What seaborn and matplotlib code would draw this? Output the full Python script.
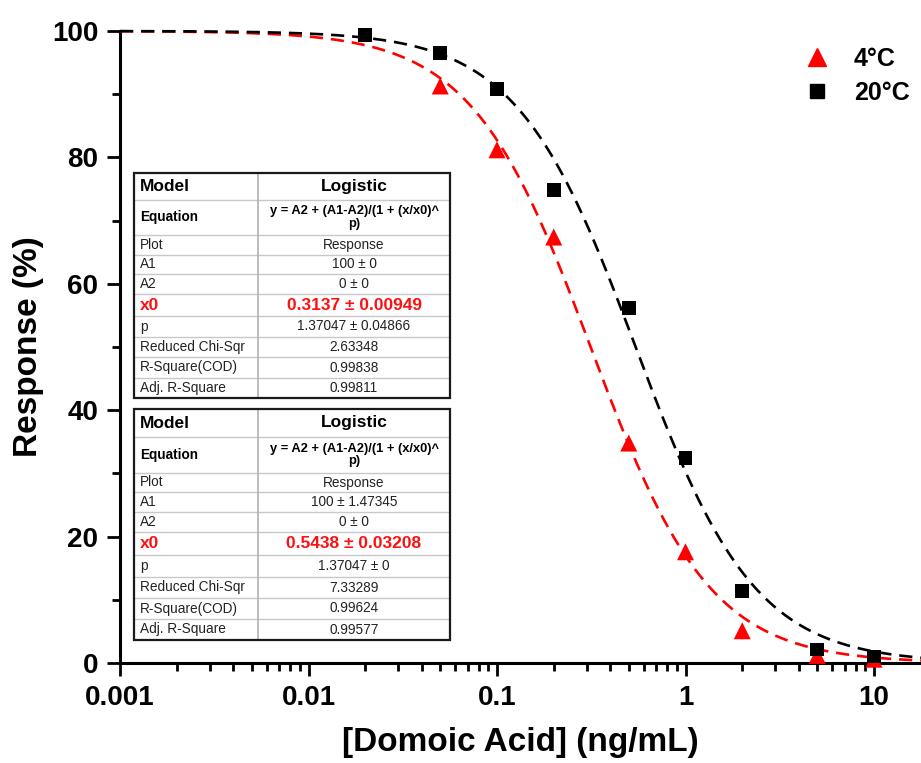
import numpy as np
import pandas as pd
import matplotlib
matplotlib.use("Agg")
import matplotlib.pyplot as plt
import seaborn as sns
from matplotlib.lines import Line2D
from matplotlib.patches import Rectangle
from matplotlib.ticker import LogLocator, FixedLocator, FixedFormatter, MultipleLocator, NullFormatter

# ---------------- data ----------------
conc_4C = [0.05, 0.1, 0.2, 0.5, 1, 2, 5, 10]
resp_4C = [91.3, 81.2, 67.4, 34.8, 17.6, 5.1, 1.2, 0.6]
conc_20C = [0.02, 0.05, 0.1, 0.2, 0.5, 1, 2, 5, 10]
resp_20C = [99.4, 96.5, 90.8, 74.8, 56.2, 32.4, 11.4, 2.1, 1.0]

# logistic fit parameters (from the tables)
A1_4C, A2_4C, x0_4C, p_4C = 100.0, 0.0, 0.3137, 1.37047
A1_20C, A2_20C, x0_20C, p_20C = 100.0, 0.0, 0.5438, 1.37047

x_ticks = [0.001, 0.01, 0.1, 1, 10]
x_tick_labels = ["0.001", "0.01", "0.1", "1", "10"]
y_ticks = [0, 20, 40, 60, 80, 100]

series_names = ["4°C", "20°C"]
colors = {"4°C": "#ff0000", "20°C": "#000000"}

table_rows = ["Model", "Equation", "Plot", "A1", "A2", "x0", "p",
              "Reduced Chi-Sqr", "R-Square(COD)", "Adj. R-Square"]
table1_vals = ["Logistic", "y = A2 + (A1-A2)/(1 + (x/x0)^\np)", "Response",
               "100 ± 0", "0 ± 0", "0.3137 ± 0.00949", "1.37047 ± 0.04866",
               "2.63348", "0.99838", "0.99811"]
table2_vals = ["Logistic", "y = A2 + (A1-A2)/(1 + (x/x0)^\np)", "Response",
               "100 ± 1.47345", "0 ± 0", "0.5438 ± 0.03208", "1.37047 ± 0",
               "7.33289", "0.99624", "0.99577"]

# ---------------- setup ----------------
sns.set_theme(style="white")
plt.rcParams["font.family"] = ["Liberation Sans", "DejaVu Sans"]
plt.rcParams["text.color"] = "black"
plt.rcParams["axes.labelcolor"] = "black"
plt.rcParams["xtick.color"] = "black"
plt.rcParams["ytick.color"] = "black"

W, H = 921, 763
fig = plt.figure(figsize=(W / 100, H / 100), dpi=100)
ax = fig.add_axes([120 / W, 100 / H, (W - 120) / W, 632 / H])
ax.set_xscale("log")
x_max = 10 ** (1 + (W - 874) / 188.5)
ax.set_xlim(0.001, x_max)
ax.set_ylim(0, 100)

pts = pd.DataFrame({
    "conc": conc_4C + conc_20C,
    "resp": resp_4C + resp_20C,
    "series": ["4°C"] * len(conc_4C) + ["20°C"] * len(conc_20C),
})

xs = np.logspace(-3, np.log10(x_max), 300)
def logistic(x, A1, A2, x0, p):
    return A2 + (A1 - A2) / (1 + (x / x0) ** p)
fit = pd.DataFrame({
    "conc": np.concatenate([xs, xs]),
    "resp": np.concatenate([logistic(xs, A1_4C, A2_4C, x0_4C, p_4C),
                            logistic(xs, A1_20C, A2_20C, x0_20C, p_20C)]),
    "series": ["4°C"] * len(xs) + ["20°C"] * len(xs),
})

sns.lineplot(data=fit, x="conc", y="resp", hue="series", style="series",
             hue_order=["4°C", "20°C"], style_order=["4°C", "20°C"], palette=colors,
             dashes={"4°C": (5, 3), "20°C": (5, 3)}, linewidth=1.9,
             estimator=None, sort=True, legend=False, ax=ax, clip_on=False, zorder=3)

sns.scatterplot(data=pts[pts.series == "4°C"], x="conc", y="resp", color=colors["4°C"],
                marker="^", s=150, edgecolor="none", legend=False, ax=ax,
                clip_on=False, zorder=4)
sns.scatterplot(data=pts[pts.series == "20°C"], x="conc", y="resp", color=colors["20°C"],
                marker="s", s=95, edgecolor="none", legend=False, ax=ax,
                clip_on=False, zorder=5)

# axes styling
for side in ["top", "right"]:
    ax.spines[side].set_visible(False)
for side in ["left", "bottom"]:
    ax.spines[side].set_color("black")
    ax.spines[side].set_linewidth(2.2)

ax.xaxis.set_major_locator(FixedLocator(x_ticks))
ax.xaxis.set_major_formatter(FixedFormatter(x_tick_labels))
ax.xaxis.set_minor_locator(LogLocator(base=10, subs=np.arange(2, 10), numticks=20))
ax.xaxis.set_minor_formatter(NullFormatter())
ax.yaxis.set_major_locator(FixedLocator(y_ticks))
ax.yaxis.set_minor_locator(MultipleLocator(10))
ax.tick_params(which="both", direction="out", color="black", width=2.0,
               bottom=True, left=True, labelcolor="black")
ax.tick_params(which="major", length=9.5, labelsize=20, pad=6)
ax.tick_params(which="minor", length=5.5)
for lab in ax.get_xticklabels() + ax.get_yticklabels():
    lab.set_fontweight("bold")

ax.set_xlabel("[Domoic Acid] (ng/mL)", fontsize=24, fontweight="bold", labelpad=12,
              color="black")
ax.set_ylabel("Response (%)", fontsize=24, fontweight="bold", labelpad=6, color="black")
ax.grid(False)

# legend
handles = [Line2D([], [], linestyle="none", marker="^", color=colors["4°C"], markersize=13),
           Line2D([], [], linestyle="none", marker="s", color=colors["20°C"], markersize=9.5)]
fig.legend(handles, series_names, loc="upper left",
           bbox_to_anchor=(789 / W, 1 - 34 / H), frameon=False,
           prop={"weight": "bold", "size": 18}, handlelength=1.2,
           handletextpad=0.9, labelspacing=0.4, borderpad=0)

# ---------------- tables (overlay in pixel coords) ----------------
tax = fig.add_axes([0, 0, 1, 1], zorder=10)
tax.set_xlim(0, W)
tax.set_ylim(H, 0)
tax.axis("off")
tax.patch.set_alpha(0)

red = "#ff1010"
def draw_table(bounds, vals):
    left, mid, right = 134, 258, 450
    top, bottom = bounds[0], bounds[-1]
    tax.add_patch(Rectangle((left, top), right - left, bottom - top,
                            facecolor="white", edgecolor="none", zorder=1))
    for yb in bounds[1:-1]:
        tax.plot([left, right], [yb, yb], color="#c8c8c8", lw=1.0, zorder=2)
    tax.plot([mid, mid], [top, bottom], color="#b8b8b8", lw=1.3, zorder=2)
    tax.add_patch(Rectangle((left, top), right - left, bottom - top,
                            facecolor="none", edgecolor="#1a1a1a", lw=1.6, zorder=3))
    cx = (mid + right) / 2
    for i, (name, val) in enumerate(zip(table_rows, vals)):
        yc = (bounds[i] + bounds[i + 1]) / 2
        if name == "Model":
            tax.text(left + 6, yc, name, fontsize=12.5, fontweight="bold", va="center", ha="left")
            tax.text(cx, yc, val, fontsize=12.5, fontweight="bold", va="center", ha="center")
        elif name == "Equation":
            tax.text(left + 6, yc, name, fontsize=9.8, fontweight="bold", va="center", ha="left")
            tax.text(cx, yc, val, fontsize=9.3, fontweight="bold", va="center", ha="center",
                     linespacing=1.05)
        elif name == "x0":
            tax.text(left + 6, yc, name, fontsize=12.5, fontweight="bold", va="center",
                     ha="left", color=red)
            tax.text(cx, yc, val, fontsize=12.5, fontweight="bold", va="center",
                     ha="center", color=red)
        else:
            tax.text(left + 6, yc, name, fontsize=9.8, va="center", ha="left", color="#222222")
            tax.text(cx, yc, val, fontsize=9.8, va="center", ha="center", color="#222222")

draw_table([173, 200, 235, 255, 274, 294, 316, 337, 357, 378, 398], table1_vals)
draw_table([409, 437, 473, 492, 512, 532, 555, 577, 598, 619, 640], table2_vals)

fig.savefig("out.png", dpi=100)
